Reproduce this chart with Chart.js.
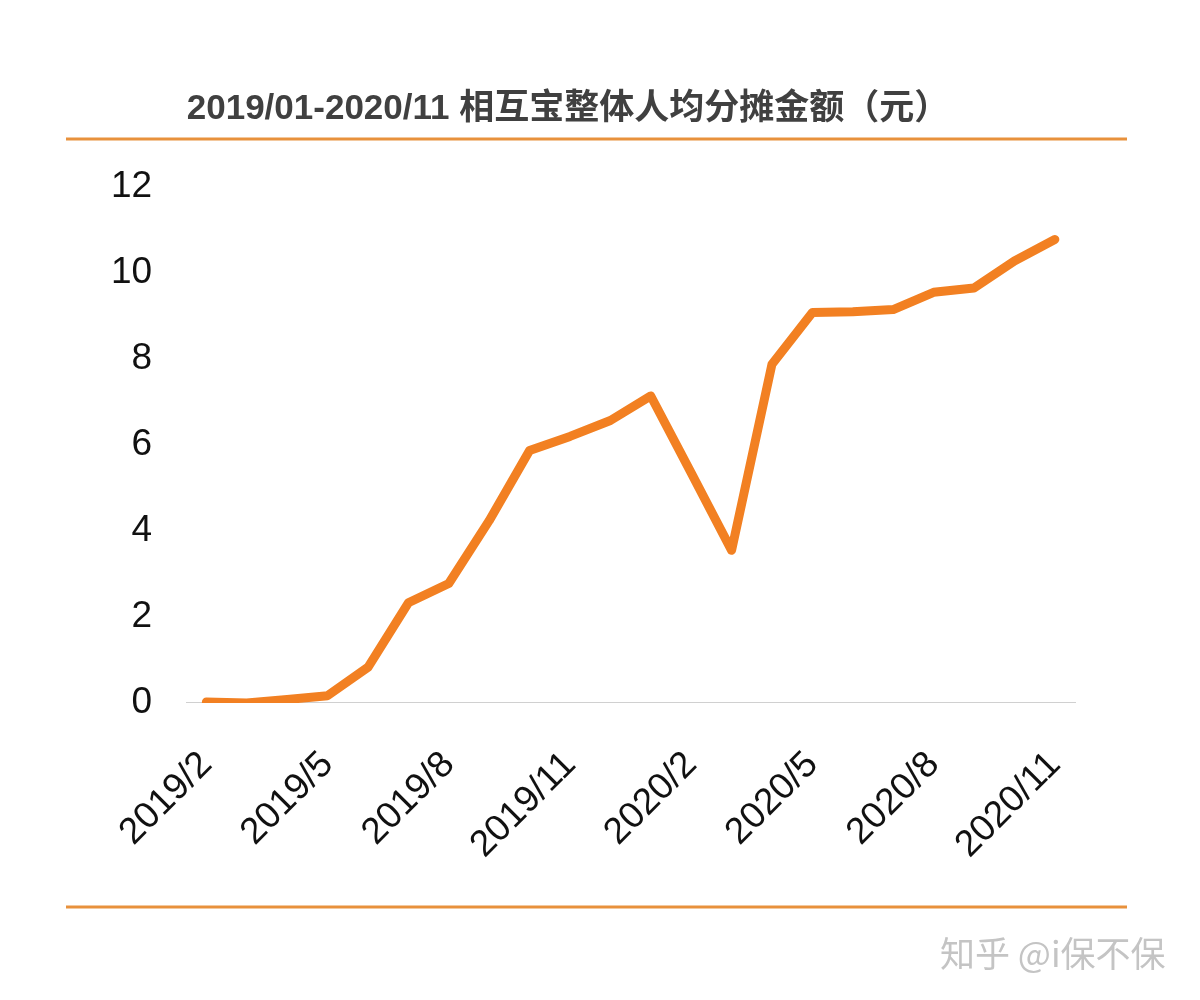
<!DOCTYPE html>
<html>
<head>
<meta charset="utf-8">
<script src="https://cdn.jsdelivr.net/npm/chart.js@4"></script>
<style>
  body { margin: 0; background: #ffffff; }
  #wrap { width: 1200px; height: 1000px; }
</style>
</head>
<body>
<div id="wrap"><canvas id="perCapita" width="1200" height="1000"></canvas></div>
<script>
// monthly per-person share amount (yuan), 2019/2 .. 2020/11
var months = ['2019/2', '2019/3', '2019/4', '2019/5', '2019/6', '2019/7', '2019/8', '2019/9',
    '2019/10', '2019/11', '2019/12', '2020/1', '2020/2', '2020/3', '2020/4', '2020/5',
    '2020/6', '2020/7', '2020/8', '2020/9', '2020/10', '2020/11'];
var amounts = [0.02, 0.0, 0.08, 0.17, 0.83, 2.33, 2.78, 4.24, 5.87, 6.2, 6.57, 7.14,
    5.35, 3.55, 7.88, 9.08, 9.1, 9.15, 9.55, 9.65, 10.28, 10.78];
var xTickLabels = ['2019/2', '2019/5', '2019/8', '2019/11', '2020/2', '2020/5', '2020/8', '2020/11'];
var yTicks = [0, 2, 4, 6, 8, 10, 12];

var titleText = '2019/01-2020/11 相互宝整体人均分摊金额（元）';
var watermark = '知乎 @i保不保';

var ctx = document.getElementById('perCapita').getContext('2d');

// title, orange rules and watermark
var decor = {
    id: 'decor',
    afterDraw: function(chart){
        var c = chart.ctx;
        c.save();
        c.strokeStyle = '#E8913C';
        c.lineWidth = 3;
        c.beginPath();
        c.moveTo(66, 139); c.lineTo(1127, 139);
        c.moveTo(66, 907); c.lineTo(1127, 907);
        c.stroke();

        c.fillStyle = '#404040';
        c.font = 'bold 35px "Liberation Sans", "Noto Sans CJK SC", sans-serif';
        c.textAlign = 'center';
        c.textBaseline = 'middle';
        c.fillText(titleText, 568, 109);

        c.fillStyle = '#c4c4c4';
        c.font = '35px "Noto Sans CJK SC", sans-serif';
        c.textAlign = 'left';
        c.fillText(watermark, 940, 954);
        c.restore();
    }
};

var chart = new Chart(ctx, {
    type: 'line',
    data: {
        labels: months,
        datasets: [{
            label: '人均分摊金额',
            data: amounts,
            borderColor: '#F28022',
            backgroundColor: '#F28022',
            borderWidth: 9,
            pointRadius: 0,
            tension: 0,
            borderJoinStyle: 'round',
            borderCapStyle: 'round'
        }]
    },
    options: {
        responsive: false,
        animation: false,
        layout: { padding: { left: 85, right: 125, top: 187, bottom: 101 } },
        plugins: {
            legend: { display: false },
            title: { display: false },
            tooltip: { enabled: false }
        },
        scales: {
            x: {
                offset: true,
                grid: { display: false },
                border: { display: true, color: '#d0d0d0', width: 1 },
                ticks: {
                    autoSkip: false,
                    minRotation: 45,
                    maxRotation: 45,
                    padding: 32,
                    color: '#111111',
                    font: { family: '"Liberation Sans", Arial, sans-serif', size: 37 },
                    callback: function(val, i){
                        var lab = months[i];
                        return xTickLabels.indexOf(lab) >= 0 ? lab : '';
                    }
                }
            },
            y: {
                min: 0,
                max: 12,
                grid: { display: false },
                border: { display: false },
                afterBuildTicks: function(axis){
                    axis.ticks = yTicks.map(function(v){ return { value: v }; });
                },
                ticks: {
                    padding: 26,
                    color: '#111111',
                    font: { family: '"Liberation Sans", Arial, sans-serif', size: 37 }
                }
            }
        }
    },
    plugins: [decor]
});
</script>
</body>
</html>
